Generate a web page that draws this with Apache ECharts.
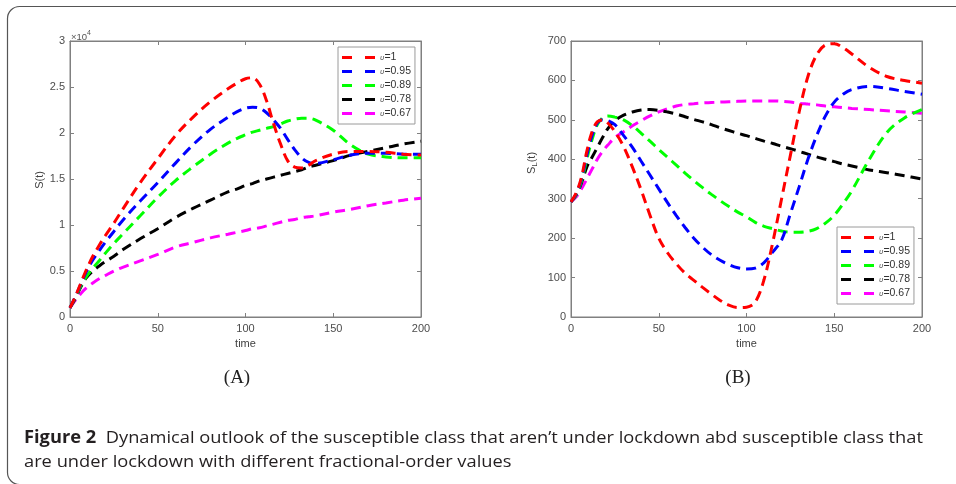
<!DOCTYPE html>
<html><head><meta charset="utf-8">
<script src="https://cdn.jsdelivr.net/npm/echarts@6/dist/echarts.min.js"></script>
<style>html,body{margin:0;padding:0;background:#fff}#c{width:956px;height:484px}</style>
</head><body><div id="c"></div>
<script>
// ---------- DATA ----------
const orderLabels = ['υ=1', 'υ=0.95', 'υ=0.89', 'υ=0.78', 'υ=0.67'];
const xTicks = [0, 50, 100, 150, 200];
const yTicksA = [0, 0.5, 1, 1.5, 2, 2.5, 3];       // ×10^4
const yTicksB = [0, 100, 200, 300, 400, 500, 600, 700];

// Panel A: S(t), values in units of 10^4
const timeA = [0,3,6,9,13,17,20,25,30,40,50,60,70,80,90,95,100,104,108,112,116,120,124,128,132,136,140,150,160,170,180,190,200];
const sA_100 = [0.10,0.22,0.36,0.50,0.66,0.79,0.88,1.02,1.17,1.46,1.72,1.97,2.17,2.34,2.48,2.54,2.59,2.60,2.53,2.35,2.10,1.88,1.70,1.63,1.62,1.65,1.70,1.77,1.80,1.80,1.79,1.77,1.76];
const sA_095 = [0.10,0.22,0.35,0.48,0.62,0.73,0.81,0.93,1.05,1.26,1.46,1.67,1.87,2.04,2.17,2.23,2.27,2.28,2.27,2.22,2.14,2.05,1.93,1.82,1.73,1.68,1.67,1.71,1.76,1.78,1.78,1.77,1.77];
const sA_089 = [0.10,0.21,0.33,0.43,0.53,0.62,0.69,0.80,0.90,1.10,1.30,1.48,1.63,1.77,1.89,1.94,1.98,2.01,2.03,2.05,2.07,2.10,2.13,2.15,2.16,2.16,2.14,2.03,1.87,1.77,1.74,1.73,1.73];
const sA_078 = [0.10,0.20,0.32,0.42,0.50,0.56,0.60,0.66,0.73,0.85,0.96,1.08,1.18,1.27,1.36,1.39,1.43,1.45,1.48,1.50,1.52,1.54,1.56,1.58,1.60,1.63,1.65,1.70,1.76,1.80,1.84,1.88,1.91];
const sA_067 = [0.10,0.18,0.25,0.31,0.37,0.42,0.45,0.50,0.54,0.61,0.68,0.76,0.81,0.86,0.90,0.92,0.94,0.96,0.97,0.99,1.01,1.03,1.05,1.06,1.08,1.09,1.10,1.14,1.17,1.21,1.24,1.27,1.29];

// Panel B: S_L(t)
const timeB = [0,3,6,9,12,15,18,21,25,30,35,40,45,50,55,60,65,70,75,80,85,90,95,100,105,110,115,120,125,130,135,140,145,150,155,160,170,180,190,200];
const sB_100 = [292,315,355,420,470,495,500,492,470,432,380,322,258,200,163,135,111,93,75,58,42,30,24,25,38,95,190,300,410,520,610,665,690,693,683,667,633,610,600,593];
const sB_095 = [292,312,350,410,460,492,500,498,488,460,430,395,360,325,290,257,227,200,177,158,144,133,125,122,124,138,165,195,262,330,400,460,510,545,565,577,585,580,572,565];
const sB_089 = [292,310,345,400,450,488,505,510,507,500,485,466,446,425,405,385,365,346,328,311,295,280,266,254,240,230,224,218,215,215,217,224,238,258,287,320,400,468,505,526];
const sB_078 = [292,310,340,380,405,430,455,478,498,512,520,525,526,524,520,515,508,501,495,488,480,473,466,460,453,446,440,433,427,420,413,406,400,394,388,383,373,366,358,350];
const sB_067 = [292,305,325,350,375,400,420,436,455,470,485,498,510,520,528,535,539,541,543,544,545,546,547,548,548,548,548,547,545,542,540,538,535,533,531,529,526,523,520,517];

// ---------- STYLE ----------
const colors = ['#ff0000', '#0000ff', '#00ff00', '#000000', '#ff00ff'];
const AXC = '#808080', LBC = '#4d4d4d';
const FONT = '"Liberation Sans", Arial, sans-serif';

const chart = echarts.init(document.getElementById('c'));

function xAx(grid, pos, show, name) {
  return {
    type: 'value', gridIndex: grid, position: pos, min: xTicks[0], max: xTicks[xTicks.length - 1],
    interval: xTicks[1] - xTicks[0],
    axisLine: { show: true, onZero: false, lineStyle: { color: AXC, width: 1 } },
    axisTick: { show: true, inside: true, length: 4, lineStyle: { color: AXC } },
    axisLabel: { show: show, margin: 6, color: LBC, fontSize: 11, fontFamily: FONT },
    splitLine: { show: false },
    name: name || '', nameLocation: 'middle', nameGap: 19,
    nameTextStyle: { color: '#404040', fontSize: 11, fontFamily: FONT }
  };
}
function yAx(grid, pos, show, ticks) {
  return {
    type: 'value', gridIndex: grid, position: pos, min: ticks[0], max: ticks[ticks.length - 1],
    interval: ticks[1] - ticks[0],
    axisLine: { show: true, onZero: false, lineStyle: { color: AXC, width: 1 } },
    axisTick: { show: true, inside: true, length: 4, lineStyle: { color: AXC } },
    axisLabel: { show: show, margin: 5, color: LBC, fontSize: 11, fontFamily: FONT },
    splitLine: { show: false }
  };
}

const seriesA = [sA_100, sA_095, sA_089, sA_078, sA_067];
const seriesB = [sB_100, sB_095, sB_089, sB_078, sB_067];
const series = [];
seriesA.forEach((vals, i) => series.push({
  name: orderLabels[i], type: 'line', xAxisIndex: 0, yAxisIndex: 0,
  data: timeA.map((t, j) => [t, vals[j]]), symbol: 'none', smooth: 0.35,
  lineStyle: { color: colors[i], width: 3, type: [10, 6] }, itemStyle: { color: colors[i] },
  z: 10 - i
}));
seriesB.forEach((vals, i) => series.push({
  name: orderLabels[i], type: 'line', xAxisIndex: 2, yAxisIndex: 2,
  data: timeB.map((t, j) => [t, vals[j]]), symbol: 'none', smooth: 0.35,
  lineStyle: { color: colors[i], width: 3, type: [10, 6] }, itemStyle: { color: colors[i] },
  z: 10 - i
}));

function legend(left, top) {
  return {
    data: orderLabels.map(n => ({ name: n, icon: 'path://M0,0H10V3H0Z M23,0H33V3H23Z' })),
    orient: 'vertical', left: left, top: top,
    backgroundColor: '#fff', borderColor: '#9a9a9a', borderWidth: 1,
    padding: [5, 4, 5, 4], itemWidth: 33, itemHeight: 3, itemGap: 3,
    selectedMode: false,
    formatter: n => '{g|υ}{t|' + n.slice(1) + '}',
    textStyle: {
      rich: {
        g: { fontSize: 8, fontStyle: 'italic', color: '#555', fontFamily: FONT, lineHeight: 12 },
        t: { fontSize: 10.5, color: '#333', fontFamily: FONT, lineHeight: 12 }
      }
    }
  };
}

// caption width fitting
function measure(font, txt) {
  const c = document.createElement('canvas').getContext('2d');
  c.font = font; return c.measureText(txt).width;
}
const capSize = 17, capFam = '"Open Sans"';
const cap1a = 'Figure 2', cap1b = '  Dynamical outlook of the susceptible class that aren\u2019t under lockdown abd susceptible class that';
const cap2 = 'are under lockdown with different fractional-order values';
const capW = measure(`bold ${capSize}px ${capFam}`, cap1a) + measure(`${capSize}px ${capFam}`, cap1b);
const capScale = 899 / capW;

chart.setOption({
  animation: false,
  backgroundColor: '#fff',
  grid: [
    { left: 70, top: 41, width: 351, height: 276, show: true, borderColor: AXC, borderWidth: 1 },
    { left: 571, top: 41, width: 351, height: 276, show: true, borderColor: AXC, borderWidth: 1 }
  ],
  xAxis: [xAx(0, 'bottom', true, 'time'), xAx(0, 'top', false), xAx(1, 'bottom', true, 'time'), xAx(1, 'top', false)],
  yAxis: [yAx(0, 'left', true, yTicksA), yAx(0, 'right', false, yTicksA), yAx(1, 'left', true, yTicksB), yAx(1, 'right', false, yTicksB)],
  legend: [legend(338, 47), legend(837, 227)],
  series: series,
  graphic: [
    { type: 'rect', shape: { x: 7.5, y: 6.5, width: 1000, height: 478, r: 12 }, style: { fill: 'none', stroke: '#555', lineWidth: 1.2 }, silent: true },
    { type: 'text', x: 71, y: 37, style: { text: '×10', fontSize: 9.5, fill: '#555', fontFamily: FONT, align: 'left', verticalAlign: 'middle' } },
    { type: 'text', x: 87, y: 33, style: { text: '4', fontSize: 7, fill: '#555', fontFamily: FONT, align: 'left', verticalAlign: 'middle' } },
    { type: 'text', x: 40, y: 180, rotation: Math.PI / 2, style: { text: 'S(t)', fontSize: 11, fill: '#404040', fontFamily: FONT, align: 'center', verticalAlign: 'middle' } },
    { type: 'text', x: 532, y: 163, rotation: Math.PI / 2,
      style: { text: '{a|S}{b|L}{a|(t)}', align: 'center', verticalAlign: 'middle',
        rich: { a: { fontSize: 11, fill: '#404040', fontFamily: FONT, lineHeight: 14, verticalAlign: 'middle' },
                b: { fontSize: 8, fill: '#404040', fontFamily: FONT, lineHeight: 14, verticalAlign: 'bottom', padding: [5, 0, 0, 0] } } } },
    { type: 'text', x: 237, y: 378, style: { text: '(A)', fontSize: 19, fill: '#222', fontFamily: '"Liberation Serif", serif', align: 'center', verticalAlign: 'middle' } },
    { type: 'text', x: 738, y: 378, style: { text: '(B)', fontSize: 19, fill: '#222', fontFamily: '"Liberation Serif", serif', align: 'center', verticalAlign: 'middle' } },
    { type: 'text', x: 24, y: 438, scaleX: capScale, style: { text: '{b|' + cap1a + '}{n|' + cap1b + '}', align: 'left', verticalAlign: 'middle',
        rich: { b: { fontSize: capSize, fontWeight: 'bold', fill: '#231f20', fontFamily: capFam },
                n: { fontSize: capSize, fill: '#231f20', fontFamily: capFam } } } },
    { type: 'text', x: 24, y: 462, scaleX: capScale, style: { text: cap2, fontSize: capSize, fill: '#231f20', fontFamily: capFam, align: 'left', verticalAlign: 'middle' } }
  ]
});
</script></body></html>
